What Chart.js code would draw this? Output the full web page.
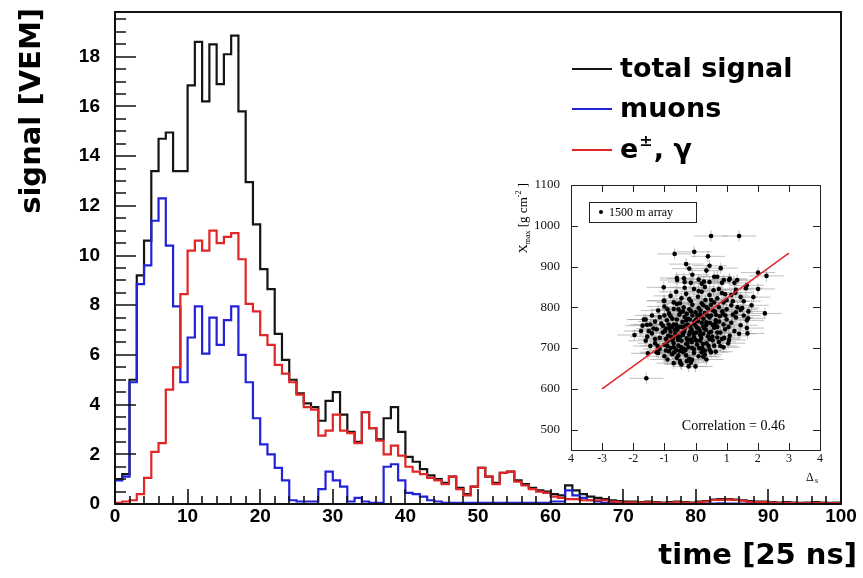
<!DOCTYPE html>
<html>
<head>
<meta charset="utf-8">
<script src="https://cdn.jsdelivr.net/npm/chart.js@4.4.0/dist/chart.umd.min.js"></script>
<style>
  html, body { margin: 0; padding: 0; background: #fff; }
  #wrap { position: relative; width: 863px; height: 578px; }
  #mainChart { position: absolute; left: 0; top: 0; }
  #insetChart { position: absolute; left: 500px; top: 170px; }
</style>
</head>
<body>
<div id="wrap">
  <canvas id="mainChart" width="863" height="578"></canvas>
  <canvas id="insetChart" width="340" height="320"></canvas>
</div>
<script>
// FADC trace, one bin = 25 ns
const totalSignal = [
  1.0, 1.2, 5.0, 9.2, 10.6, 13.4, 14.7, 14.95, 13.4, 13.4,
  16.85, 18.6, 16.2, 18.5, 16.9, 18.1, 18.85, 15.8, 12.95, 11.25,
  9.45, 8.65, 6.85, 5.8, 5.0, 4.45, 4.05, 3.9, 3.35, 4.15,
  4.5, 3.6, 2.9, 2.5, 3.7, 3.05, 2.6, 3.45, 3.9, 2.9,
  1.9, 1.7, 1.4, 1.15, 1.0, 0.85, 1.1, 0.65, 0.4, 0.7,
  1.45, 1.1, 0.85, 1.25, 1.3, 0.95, 0.8, 0.65, 0.55, 0.5,
  0.4, 0.35, 0.75, 0.55, 0.4, 0.3, 0.25, 0.2, 0.15, 0.12,
  0.1, 0.1, 0.08, 0.1, 0.08, 0.06, 0.08, 0.1, 0.08, 0.06,
  0.1, 0.12, 0.18, 0.2, 0.2, 0.18, 0.15, 0.12, 0.1, 0.1,
  0.08, 0.06, 0.08, 0.06, 0.05, 0.06, 0.08, 0.06, 0.05, 0.06
];
const muonSignal = [
  0.95, 1.1, 4.9, 8.85, 9.6, 11.4, 12.3, 10.4, 7.95, 4.9,
  6.7, 7.95, 6.05, 7.5, 6.4, 7.4, 7.95, 6.0, 4.9, 3.45,
  2.4, 2.0, 1.45, 0.95, 0.15, 0.1, 0.1, 0.1, 0.6, 1.3,
  0.95, 0.7, 0.1, 0.25, 0.1, 0.05, 0.05, 1.5, 1.6, 0.95,
  0.45, 0.4, 0.3, 0.15, 0.1, 0.05, 0.05, 0.05, 0.05, 0.05,
  0.05, 0.05, 0.05, 0.05, 0.05, 0.05, 0.05, 0.05, 0.05, 0.05,
  0.1, 0.1, 0.55, 0.35, 0.25, 0.15, 0.1, 0.05, 0.05, 0.04,
  0.04, 0.03, 0.02, 0.03, 0.02, 0.02, 0.03, 0.02, 0.02, 0.02,
  0.03, 0.02, 0.02, 0.03, 0.02, 0.02, 0.02, 0.03, 0.02, 0.02,
  0.02, 0.02, 0.03, 0.02, 0.02, 0.02, 0.03, 0.02, 0.02, 0.02
];
const emSignal = [
  0.05, 0.1, 0.15, 0.4, 1.05, 2.1, 2.45, 4.6, 5.5, 8.45,
  10.2, 10.6, 10.2, 11.0, 10.5, 10.75, 10.9, 9.85, 8.05, 7.75,
  6.8, 6.4, 5.6, 5.25, 4.9, 4.4, 3.9, 3.8, 2.75, 2.95,
  3.6, 2.95, 2.85, 2.45, 3.7, 3.05, 2.55, 2.0, 2.35, 1.95,
  1.5, 1.3, 1.2, 1.05, 0.95, 0.8, 1.1, 0.6, 0.35, 0.7,
  1.45, 1.1, 0.8, 1.25, 1.3, 0.9, 0.75, 0.6, 0.5, 0.45,
  0.3, 0.25, 0.2, 0.2, 0.15, 0.15, 0.15, 0.15, 0.1, 0.08,
  0.06, 0.07, 0.06, 0.07, 0.06, 0.04, 0.05, 0.08, 0.06, 0.04,
  0.07, 0.1, 0.16, 0.17, 0.18, 0.16, 0.13, 0.09, 0.08, 0.08,
  0.06, 0.04, 0.05, 0.04, 0.03, 0.04, 0.05, 0.04, 0.03, 0.04
];
const yTickValues = [0, 2, 4, 6, 8, 10, 12, 14, 16, 18];
const xTickValues = [0, 10, 20, 30, 40, 50, 60, 70, 80, 90, 100];

// inset: Xmax vs Delta_s, 1500 m array
const insetPoints = [
  [0.5, 975], [1.4, 975], [-0.67, 931], [-0.04, 936], [-0.3, 906], [0.4, 925], [0.45, 902], [0.81, 896],
  [-1.02, 849], [2.01, 885], [2.28, 877], [2.01, 845], [1.86, 825], [2.23, 785], [1.65, 854], [1.62, 847],
  [1.34, 867], [1.28, 836], [-1.96, 732], [-1.66, 770], [-1.56, 757], [-1.58, 626], [-1.53, 687], [-1.02, 816],
  [-0.7, 663], [-0.48, 663], [-0.22, 655], [0, 655], [-0.11, 671], [0.25, 679], [0.65, 691], [1.08, 720],
  [1.67, 736], [1.65, 749], [1.69, 773], [1.45, 794], [1.08, 867], [0.91, 867], [0.7, 875], [0.27, 863],
  [-0.37, 871], [-0.59, 867],
  [-1.2, 688], [-1.0, 680], [-0.9, 672], [-0.75, 685], [-0.6, 676], [-0.5, 668], [-0.4, 690], [-0.3, 682],
  [-0.2, 674], [-0.05, 688], [0.1, 680], [0.3, 684], [0.5, 690], [-0.85, 692], [-0.45, 660], [-0.15, 664],
  [-1.45, 705], [-1.3, 712], [-1.15, 698], [-1.0, 708], [-0.9, 716], [-0.8, 700], [-0.7, 712], [-0.62, 695],
  [-0.55, 706], [-0.45, 718], [-0.38, 698], [-0.3, 710], [-0.22, 702], [-0.12, 715], [-0.05, 697], [0.05, 708],
  [0.15, 718], [0.22, 700], [0.35, 712], [0.45, 696], [0.6, 706], [0.75, 715], [0.9, 702], [1.05, 712],
  [-1.6, 718], [-0.95, 694], [-0.5, 693], [0.0, 720], [0.3, 694], [-0.25, 719], [-0.75, 719], [0.55, 719],
  [-1.75, 742], [-1.55, 728], [-1.4, 736], [-1.25, 746], [-1.15, 725], [-1.05, 738], [-0.95, 748], [-0.88, 730],
  [-0.8, 740], [-0.72, 723], [-0.65, 735], [-0.58, 745], [-0.5, 728], [-0.42, 738], [-0.35, 748], [-0.28, 724],
  [-0.2, 733], [-0.12, 744], [-0.05, 727], [0.02, 738], [0.1, 748], [0.18, 725], [0.25, 735], [0.33, 745],
  [0.4, 729], [0.5, 740], [0.6, 750], [0.7, 726], [0.8, 738], [0.95, 746], [1.1, 730], [1.25, 742],
  [1.4, 735], [-1.3, 722], [-0.6, 750], [0.05, 750], [0.85, 722], [-0.15, 721], [-0.95, 722], [0.45, 722],
  [-0.4, 732], [0.15, 732],
  [-1.6, 770], [-1.45, 758], [-1.3, 765], [-1.15, 776], [-1.05, 755], [-0.92, 768], [-0.8, 778], [-0.7, 758],
  [-0.6, 770], [-0.5, 752], [-0.42, 764], [-0.35, 776], [-0.25, 758], [-0.18, 770], [-0.1, 780], [0.0, 755],
  [0.08, 766], [0.17, 777], [0.25, 753], [0.35, 763], [0.45, 775], [0.55, 757], [0.65, 768], [0.78, 778],
  [0.9, 758], [1.0, 770], [1.15, 762], [1.3, 775], [1.45, 756], [1.65, 768], [-0.75, 752], [-0.3, 768],
  [0.2, 762], [0.7, 752], [-1.0, 780], [0.5, 780],
  [-1.2, 792], [-1.0, 802], [-0.85, 785], [-0.7, 796], [-0.6, 808], [-0.48, 788], [-0.38, 800], [-0.28, 784],
  [-0.2, 795], [-0.1, 806], [0.0, 788], [0.1, 798], [0.2, 810], [0.3, 786], [0.4, 797], [0.5, 806],
  [0.62, 790], [0.75, 800], [0.88, 784], [1.0, 795], [1.15, 805], [1.3, 788], [1.5, 798], [1.7, 790],
  [-0.5, 810], [0.15, 783],
  [-1.0, 816], [-0.8, 828], [-0.62, 838], [-0.45, 822], [-0.3, 833], [-0.15, 815], [-0.05, 845], [0.08, 826],
  [0.2, 838], [0.32, 818], [0.45, 830], [0.58, 842], [0.7, 822], [0.85, 835], [1.0, 818], [1.15, 830],
  [1.3, 843], [1.45, 825], [-0.35, 848], [0.3, 850],
  [-0.6, 872], [-0.35, 862], [-0.1, 880], [0.1, 868], [0.35, 890], [0.6, 875], [0.85, 860], [1.1, 870],
  [0.2, 858], [-0.2, 895],
  [-0.9, 705], [-0.78, 728], [-0.66, 745], [-0.56, 720], [-0.46, 702], [-0.36, 740], [-0.26, 712], [-0.16, 752],
  [-0.06, 735], [0.04, 718], [0.14, 742], [0.24, 710], [0.34, 756], [0.44, 738], [0.54, 728], [0.64, 760],
  [-1.1, 760], [-0.98, 742], [-0.86, 758], [-0.74, 772], [-0.62, 758], [-0.52, 782], [-0.4, 790], [-0.32, 755],
  [-0.24, 772], [-0.14, 790], [-0.04, 765], [0.06, 780], [0.16, 792], [0.26, 772], [0.36, 800], [0.46, 762],
  [0.56, 792], [0.66, 782], [0.76, 765], [0.86, 790], [0.96, 780], [1.06, 752], [1.2, 782], [-1.35, 748],
  [-1.22, 705], [-0.68, 690], [-0.32, 695], [0.12, 700], [0.42, 705], [0.7, 738], [0.92, 725], [-0.58, 728],
  [-0.18, 740], [0.28, 748], [-0.84, 748], [-0.44, 752], [0.02, 770], [0.38, 780], [0.6, 812], [0.9, 812],
  [-0.9, 795], [-0.7, 812], [-0.2, 820], [0.1, 840], [0.5, 818], [0.75, 845], [1.2, 815], [1.35, 800],
  [1.55, 780], [1.55, 815], [1.8, 805], [-1.4, 780], [-1.5, 742], [-1.7, 755], [-1.25, 690], [-0.55, 682],
  [-0.1, 700], [0.2, 690], [0.8, 705], [-0.28, 668], [0.35, 672], [-0.7, 702], [-0.05, 760], [-0.55, 795],
  [0.25, 805], [0.95, 832], [1.25, 860], [-0.15, 860], [0.45, 862]
];
const fitLine = [[-3, 600], [3, 933]];
const insetXTicks = [-4, -3, -2, -1, 0, 1, 2, 3, 4];
const insetYTicks = [500, 600, 700, 800, 900, 1000, 1100];
const XERR = 0.55;
const YERR = 14;

const BLACK = '#151515';
const BLUE = '#2222d8';
const RED = '#e02626';

function histPoints(values) {
  const pts = values.map((v, i) => ({ x: i, y: v }));
  pts.push({ x: values.length, y: values[values.length - 1] });
  return pts;
}

// frame, inward ticks, axis titles and legend in ROOT style
const rootFrame = {
  id: 'rootFrame',
  afterDraw(chart) {
    const { ctx, chartArea: a, scales: { x, y } } = chart;
    ctx.save();
    ctx.strokeStyle = '#111';
    ctx.lineWidth = 2;
    ctx.strokeRect(a.left, a.top, a.right - a.left, a.bottom - a.top);

    ctx.lineWidth = 1.6;
    ctx.beginPath();
    for (let v = 0; v <= y.max; v += 0.5) {
      const py = Math.round(y.getPixelForValue(v));
      const len = v % 2 === 0 ? 21 : 11;
      ctx.moveTo(a.left, py);
      ctx.lineTo(a.left + len, py);
    }
    for (let v = 0; v <= 100; v += 2) {
      const px = Math.round(x.getPixelForValue(v));
      const len = v % 10 === 0 ? 15 : 8;
      ctx.moveTo(px, a.bottom);
      ctx.lineTo(px, a.bottom - len);
    }
    ctx.stroke();

    // axis titles
    ctx.fillStyle = '#000';
    ctx.font = 'bold 29px "DejaVu Sans"';
    ctx.textAlign = 'right';
    ctx.textBaseline = 'alphabetic';
    ctx.fillText('time [25 ns]', 857, 564);
    ctx.save();
    ctx.translate(40, 8);
    ctx.rotate(-Math.PI / 2);
    ctx.fillText('signal [VEM]', 0, 0);
    ctx.restore();

    // legend
    const lx = 572, tx = 620;
    const rows = [
      { y: 69, color: BLACK },
      { y: 109, color: BLUE },
      { y: 150, color: RED }
    ];
    ctx.lineWidth = 2;
    rows.forEach(r => {
      ctx.strokeStyle = r.color;
      ctx.beginPath();
      ctx.moveTo(lx, r.y);
      ctx.lineTo(lx + 40, r.y);
      ctx.stroke();
    });
    ctx.textAlign = 'left';
    ctx.font = 'bold 27px "DejaVu Sans"';
    ctx.fillText('total signal', tx, 77);
    ctx.fillText('muons', tx, 117);
    let cx = tx;
    ctx.fillText('e', cx, 158);
    cx += ctx.measureText('e').width + 1;
    ctx.font = 'bold 16px "DejaVu Sans"';
    ctx.fillText('\u00b1', cx, 146);
    cx += ctx.measureText('\u00b1').width + 1;
    ctx.font = 'bold 27px "DejaVu Sans"';
    ctx.fillText(', \u03b3', cx, 158);
    ctx.restore();
  }
};

new Chart(document.getElementById('mainChart'), {
  type: 'line',
  data: {
    datasets: [
      { label: 'e\u00b1, \u03b3', data: histPoints(emSignal), borderColor: RED },
      { label: 'muons', data: histPoints(muonSignal), borderColor: BLUE },
      { label: 'total signal', data: histPoints(totalSignal), borderColor: BLACK }
    ]
  },
  options: {
    responsive: false,
    devicePixelRatio: 1,
    animation: false,
    datasets: {
      line: { stepped: 'before', pointRadius: 0, borderWidth: 2.2, fill: false, tension: 0 }
    },
    layout: { padding: { left: 0, top: 12, right: 22, bottom: 0 } },
    plugins: { legend: { display: false }, tooltip: { enabled: false } },
    scales: {
      x: {
        type: 'linear',
        min: 0,
        max: 100,
        afterBuildTicks: s => { s.ticks = xTickValues.map(v => ({ value: v })); },
        afterFit: s => { s.height = 74; s.paddingLeft = 0; s.paddingRight = 0; },
        grid: { display: false, drawTicks: false },
        border: { display: false },
        ticks: {
          color: '#000',
          padding: 3,
          maxRotation: 0,
          autoSkip: false,
          font: { family: 'Liberation Sans', weight: 'bold', size: 19, lineHeight: 1 }
        }
      },
      y: {
        type: 'linear',
        min: 0,
        max: 19.8,
        afterBuildTicks: s => { s.ticks = yTickValues.map(v => ({ value: v })); },
        afterFit: s => { s.width = 115; s.paddingTop = 0; s.paddingBottom = 0; },
        grid: { display: false, drawTicks: false },
        border: { display: false },
        ticks: {
          color: '#000',
          padding: 15,
          font: { family: 'Liberation Sans', weight: 'bold', size: 19 }
        }
      }
    }
  },
  plugins: [rootFrame]
});

// error bars behind the scatter points
const errorBars = {
  id: 'errorBars',
  beforeDatasetsDraw(chart) {
    const { ctx, scales: { x, y } } = chart;
    ctx.save();
    ctx.strokeStyle = 'rgba(150,150,150,0.6)';
    ctx.lineWidth = 1;
    ctx.beginPath();
    insetPoints.forEach(([dx, xm]) => {
      const px = x.getPixelForValue(dx), py = y.getPixelForValue(xm);
      ctx.moveTo(x.getPixelForValue(dx - XERR), py);
      ctx.lineTo(x.getPixelForValue(dx + XERR), py);
      ctx.moveTo(px, y.getPixelForValue(xm - YERR));
      ctx.lineTo(px, y.getPixelForValue(xm + YERR));
    });
    ctx.stroke();
    ctx.restore();
  }
};

const insetFrame = {
  id: 'insetFrame',
  beforeDraw(chart) {
    const { ctx, chartArea: a } = chart;
    ctx.save();
    ctx.fillStyle = '#fff';
    ctx.fillRect(a.left, a.top, a.right - a.left, a.bottom - a.top);
    ctx.restore();
  },
  afterDraw(chart) {
    const { ctx, chartArea: a, scales: { x, y } } = chart;
    ctx.save();
    ctx.strokeStyle = '#222';
    ctx.lineWidth = 1;
    ctx.strokeRect(a.left + 0.5, a.top + 0.5, a.right - a.left, a.bottom - a.top);
    ctx.beginPath();
    insetXTicks.slice(1, -1).forEach(v => {
      const px = Math.round(x.getPixelForValue(v)) + 0.5;
      ctx.moveTo(px, a.bottom); ctx.lineTo(px, a.bottom - 7);
      ctx.moveTo(px, a.top); ctx.lineTo(px, a.top + 7);
    });
    insetYTicks.slice(0, -1).forEach(v => {
      const py = Math.round(y.getPixelForValue(v)) + 0.5;
      ctx.moveTo(a.left, py); ctx.lineTo(a.left + 7, py);
      ctx.moveTo(a.right, py); ctx.lineTo(a.right - 7, py);
    });
    ctx.stroke();

    // legend box
    const bx = a.left + 18, by = a.top + 17;
    ctx.fillStyle = '#fff';
    ctx.fillRect(bx, by, 107, 20);
    ctx.strokeRect(bx + 0.5, by + 0.5, 107, 20);
    ctx.fillStyle = '#000';
    ctx.beginPath();
    ctx.arc(bx + 12, by + 10, 2, 0, Math.PI * 2);
    ctx.fill();
    ctx.font = '12px "Liberation Serif"';
    ctx.textBaseline = 'alphabetic';
    ctx.textAlign = 'left';
    ctx.fillText('1500 m array', bx + 20, by + 14);

    ctx.font = '14px "Liberation Serif"';
    ctx.textAlign = 'right';
    ctx.fillText('Correlation = 0.46', a.right - 35, a.bottom - 20);

    // x title: Delta_s
    ctx.textAlign = 'left';
    ctx.font = '12px "Liberation Serif"';
    ctx.fillText('\u0394', a.right - 14, a.bottom + 31);
    ctx.font = '8px "Liberation Serif"';
    ctx.fillText('s', a.right - 5, a.bottom + 33);

    // y title: X_max [g cm^-2]
    const parts = [
      { t: 'X', s: 13, dy: 0 },
      { t: 'max', s: 8, dy: 3 },
      { t: ' [g cm', s: 13, dy: 0 },
      { t: '-2', s: 8, dy: -6 },
      { t: ' ]', s: 13, dy: 0 }
    ];
    let total = 0;
    parts.forEach(p => { ctx.font = p.s + 'px "Liberation Serif"'; p.w = ctx.measureText(p.t).width; total += p.w; });
    ctx.save();
    ctx.translate(a.left - 44, a.top - 2);
    ctx.rotate(-Math.PI / 2);
    let px = -total;
    parts.forEach(p => {
      ctx.font = p.s + 'px "Liberation Serif"';
      ctx.fillText(p.t, px, p.dy);
      px += p.w;
    });
    ctx.restore();
    ctx.restore();
  }
};

new Chart(document.getElementById('insetChart'), {
  type: 'scatter',
  data: {
    datasets: [
      {
        type: 'line',
        label: 'fit',
        data: fitLine.map(([a, b]) => ({ x: a, y: b })),
        borderColor: RED,
        borderWidth: 1.5,
        pointRadius: 0
      },
      {
        label: '1500 m array',
        data: insetPoints.map(([a, b]) => ({ x: a, y: b })),
        backgroundColor: '#000',
        borderColor: '#000',
        pointRadius: 2.3,
        borderWidth: 0
      }
    ]
  },
  options: {
    responsive: false,
    devicePixelRatio: 1,
    animation: false,
    layout: { padding: { left: 0, top: 15, right: 20, bottom: 0 } },
    plugins: { legend: { display: false }, tooltip: { enabled: false } },
    scales: {
      x: {
        type: 'linear',
        min: -4,
        max: 4,
        afterBuildTicks: s => { s.ticks = insetXTicks.map(v => ({ value: v })); },
        afterFit: s => { s.height = 40; s.paddingLeft = 0; s.paddingRight = 0; },
        grid: { display: false, drawTicks: false },
        border: { display: false },
        ticks: {
          color: '#111',
          padding: 3,
          maxRotation: 0,
          autoSkip: false,
          callback: v => String(Math.abs(v) === 4 ? 4 : v),
          font: { family: 'Liberation Serif', size: 12, lineHeight: 1 }
        }
      },
      y: {
        type: 'linear',
        min: 450,
        max: 1100,
        afterBuildTicks: s => { s.ticks = insetYTicks.map(v => ({ value: v })); },
        afterFit: s => { s.width = 71; s.paddingTop = 0; s.paddingBottom = 0; },
        grid: { display: false, drawTicks: false },
        border: { display: false },
        ticks: {
          color: '#111',
          padding: 11,
          callback: v => String(v),
          font: { family: 'Liberation Serif', size: 13 }
        }
      }
    }
  },
  plugins: [insetFrame, errorBars]
});
</script>
</body>
</html>
